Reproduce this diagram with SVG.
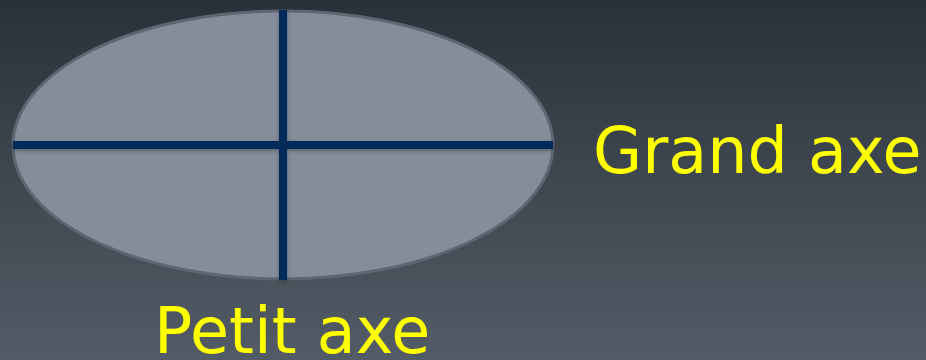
<svg xmlns="http://www.w3.org/2000/svg" width="926" height="360" viewBox="0 0 926 360">
<defs>
<linearGradient id="bg" x1="0" y1="0" x2="0" y2="1">
<stop offset="0" stop-color="#2a313b"/>
<stop offset="1" stop-color="#535c66"/>
</linearGradient>
<filter id="sh" x="-10%" y="-10%" width="120%" height="120%">
<feDropShadow dx="0" dy="2" stdDeviation="2" flood-color="#000" flood-opacity="0.3"/>
</filter>
</defs>
<style>
.axis{stroke:#052b5a;stroke-width:8;fill:none}
.lbl{font-family:"DejaVu Sans",Verdana,sans-serif;font-size:63.5px;fill:#ffff00}
</style>
<rect width="926" height="360" fill="url(#bg)"/>
<g id="ellipse">
<ellipse cx="283" cy="145" rx="270" ry="134" fill="#858d9b" stroke="#5f6671" stroke-width="3"/>
</g>
<g id="axes" filter="url(#sh)">
<line class="axis" x1="13" y1="145" x2="553" y2="145"/>
<line class="axis" x1="283" y1="10" x2="283" y2="280"/>
</g>
<g id="grand-axe"><text class="lbl" x="593" y="173">Grand axe</text></g>
<g id="petit-axe"><text class="lbl" x="154" y="353">Petit axe</text></g>
</svg>
